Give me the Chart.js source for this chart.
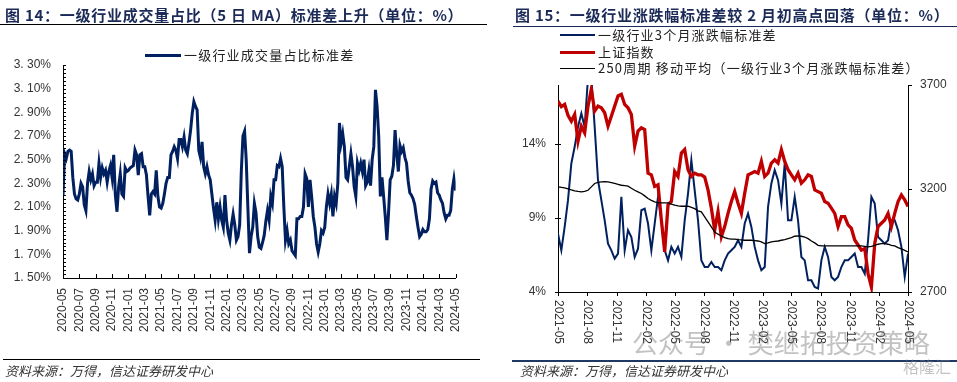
<!DOCTYPE html>
<html><head><meta charset="utf-8">
<script src="https://cdn.jsdelivr.net/npm/chart.js@4"></script>
<style>
html,body{margin:0;padding:0;background:#fff;width:957px;height:382px;overflow:hidden;position:relative;font-family:"Noto Sans CJK SC",sans-serif;}
.abs{position:absolute;white-space:nowrap;}
canvas{position:absolute;top:0;}
.title{font-weight:bold;font-size:15px;color:#1b2a57;line-height:20px;letter-spacing:0.75px;}
.src{font-style:italic;font-size:13px;color:#333;line-height:18px;}
.leg{font-size:13px;color:#222;line-height:16px;letter-spacing:1.2px;}
.wm{color:rgba(120,120,120,0.45);}
</style></head><body>
<canvas id="c1" width="480" height="382" style="left:0;width:480px;height:382px"></canvas>
<canvas id="c2" width="477" height="382" style="left:480px;width:477px;height:382px"></canvas>

<div class="abs title" style="left:5px;top:5px">图 14：一级行业成交量占比（5 日 MA）标准差上升（单位：%）</div>
<div class="abs" style="left:0;top:24px;width:487px;border-top:1.5px solid #000"></div>
<div class="abs title" style="left:515px;top:5px">图 15：一级行业涨跌幅标准差较 2 月初高点回落（单位：%）</div>
<div class="abs" style="left:513px;top:26px;width:444px;border-top:1.5px solid #1b2a57"></div>

<div class="abs" style="left:145px;top:53.5px;width:36px;height:3px;background:#002060"></div>
<div class="abs leg" style="left:184px;top:47px">一级行业成交量占比标准差</div>

<div class="abs" style="left:560px;top:34px;width:35px;height:2px;background:#002060"></div>
<div class="abs leg" style="left:598px;top:27px">一级行业3个月涨跌幅标准差</div>
<div class="abs" style="left:560px;top:50.5px;width:35px;height:3.5px;background:#c00000"></div>
<div class="abs leg" style="left:598px;top:44px">上证指数</div>
<div class="abs" style="left:560px;top:67.5px;width:35px;height:1.5px;background:#000"></div>
<div class="abs leg" style="left:598px;top:60px">250周期 移动平均（一级行业3个月涨跌幅标准差）</div>

<div class="abs" style="left:3px;top:359px;width:477px;border-top:1.5px solid #000"></div>
<div class="abs src" style="left:5px;top:362px">资料来源：万得，信达证券研发中心</div>
<div class="abs" style="left:512px;top:360px;width:445px;border-top:2px solid #1f3864"></div>
<div class="abs src" style="left:520px;top:362px">资料来源：万得，信达证券研发中心</div>

<div class="abs wm" style="left:632px;top:326px;font-size:26px;line-height:32px">公众号 · 樊继拓投资策略</div>
<div class="abs wm" style="left:903px;top:356px;font-size:16px;line-height:20px">格隆汇</div>

<script>
// ---------- Left chart data ----------
const leftStepMonths = 0.2; // sample spacing (months from 2020-05)
const stdVals = [
2.20,2.55,2.51,2.57,2.58,2.57,2.35,2.21,2.17,2.16,
2.21,2.30,2.27,2.12,2.07,2.30,2.40,2.33,2.38,2.28,
2.31,2.31,2.47,2.35,2.43,2.38,2.41,2.31,2.40,2.45,
2.35,2.54,2.20,2.06,2.27,2.38,2.21,2.19,2.43,2.40,
2.41,2.43,2.44,2.45,2.58,2.54,2.37,2.54,2.55,2.44,
2.44,2.37,2.19,2.03,2.21,2.23,2.21,2.41,2.19,2.10,
2.09,2.13,2.21,2.30,2.35,2.35,2.54,2.57,2.61,2.58,
2.51,2.67,2.67,2.61,2.69,2.58,2.55,2.64,2.75,2.89,
2.99,2.95,2.92,2.58,2.52,2.65,2.44,2.38,2.44,2.37,
2.33,2.21,2.09,1.99,2.14,2.00,2.10,1.99,1.93,2.20,
1.99,1.88,1.82,1.95,2.04,1.95,1.82,1.85,1.95,2.40,
2.70,2.74,2.50,2.10,1.71,1.85,1.93,2.13,2.05,1.85,
1.76,1.75,1.80,1.86,1.98,2.07,1.99,2.19,2.13,2.33,
2.33,2.45,2.44,2.51,2.44,2.10,1.82,1.90,1.79,1.82,
1.73,1.71,1.69,2.00,2.00,2.02,2.02,2.10,2.38,2.34,
2.10,2.33,2.19,2.02,1.93,1.79,1.72,1.79,1.90,1.88,
1.93,2.10,2.21,2.13,2.21,2.02,2.19,2.13,2.30,2.81,
2.64,2.72,2.61,2.35,2.33,2.44,2.55,2.44,2.27,2.19,
2.47,2.41,2.47,2.40,2.50,2.28,2.31,2.41,2.28,2.50,
2.61,3.09,2.95,2.70,2.19,2.35,2.19,2.02,1.82,2.05,
2.33,2.36,2.45,2.75,2.55,2.40,2.62,2.57,2.60,2.52,
2.47,2.32,2.22,2.20,2.17,2.12,2.02,1.93,1.85,1.87,
1.91,1.89,1.89,1.91,2.00,2.25,2.32,2.30,2.31,2.22,
2.20,2.16,2.13,2.05,2.00,2.03,2.03,2.07,2.25,2.34,
2.24];
const leftTickLabels = ['2020-05','2020-07','2020-09','2020-11','2021-01','2021-03','2021-05','2021-07','2021-09','2021-11','2022-01','2022-03','2022-05','2022-07','2022-09','2022-11','2023-01','2023-03','2023-05','2023-07','2023-09','2023-11','2024-01','2024-03','2024-05'];
const leftTickMonths = [0,2,4,6,8,10,12,14,16,18,20,22,24,26,28,30,32,34,36,38,40,42,44,46,48];
const leftYTicks = [1.5,1.7,1.9,2.1,2.3,2.5,2.7,2.9,3.1,3.3];

// ---------- Right chart data ----------
const rightStepDays = 10.44; // sample spacing (days from 2021-05-01)
const industryStd = [
7.95,6.82,8.40,10.21,12.69,13.82,15.17,16.08,15.17,18.5,
18.5,15.17,11.56,10.21,8.85,7.27,6.82,6.26,6.60,10.43,
6.82,8.18,7.72,6.37,6.93,9.53,9.64,8.63,6.82,8.63,
10.43,8.85,6.82,6.14,7.05,6.60,7.05,6.37,8.85,10.66,
12.92,10.88,8.85,6.14,5.69,5.69,6.03,5.69,5.69,5.47,
6.14,6.60,6.82,7.05,7.50,7.05,8.63,9.30,8.40,7.05,
6.14,5.47,5.69,9.76,11.34,12.24,11.56,9.98,12.69,8.85,
8.85,10.43,8.85,6.37,6.14,4.79,4.79,4.34,4.23,6.14,
7.05,6.37,5.02,4.79,5.02,5.69,6.14,6.14,6.37,6.60,
5.69,5.69,5.24,7.50,10.43,9.98,7.72,7.50,7.27,7.50,
8.85,8.85,8.18,7.05,5.02,6.60];
const sseIndex = [
3622,3595,3606,3553,3525,3558,3428,3501,3469,3598,
3679,3574,3598,3590,3566,3501,3549,3598,3647,3655,
3606,3590,3558,3404,3477,3493,3485,3274,3266,3210,
3218,3048,2894,3121,3137,3282,3258,3371,3388,3291,
3258,3274,3266,3266,3255,3193,3105,2999,3088,2967,
3016,3080,3137,3185,3129,3080,3177,3266,3274,3282,
3274,3331,3258,3274,3323,3339,3323,3388,3331,3291,
3266,3242,3274,3226,3242,3266,3258,3193,3185,3177,
3137,3129,3105,3080,3016,3064,3064,3024,3007,2951,
2927,2902,2910,2789,2724,2935,3016,3032,3048,3080,
3016,3080,3137,3169,3145,3113];
const ma250 = [
11.11,11.08,11.04,10.98,10.90,10.84,10.80,10.77,10.80,10.88,
11.11,11.34,11.42,11.45,11.46,11.45,11.40,11.34,11.28,11.22,
11.19,11.16,11.02,10.88,10.77,10.66,10.50,10.32,10.20,10.09,
10.05,10.03,10.03,10.03,9.95,9.87,9.83,9.80,9.80,9.80,
9.72,9.64,9.49,9.42,9.08,8.74,8.40,8.06,7.91,7.79,
7.68,7.61,7.57,7.57,7.54,7.52,7.50,7.50,7.50,7.48,
7.45,7.39,7.27,7.32,7.39,7.43,7.45,7.50,7.54,7.61,
7.68,7.77,7.79,7.77,7.72,7.61,7.45,7.32,7.16,7.12,
7.12,7.12,7.12,7.12,7.12,7.12,7.12,7.12,7.12,7.12,
7.12,7.12,7.09,7.05,7.09,7.16,7.23,7.27,7.27,7.23,
7.16,7.12,7.00,6.91,6.82,6.71];
const rightTickLabels = ['2021-05','2021-08','2021-11','2022-02','2022-05','2022-08','2022-11','2023-02','2023-05','2023-08','2023-11','2024-02','2024-05'];
const rightTickDays = [0,92,184,276,365,457,549,641,730,822,914,1006,1096];
const rightYTicks = [4,9,14];
const rightY2Ticks = [2700,3200,3700];

Chart.defaults.font.family = '"Liberation Sans", Arial, sans-serif';
Chart.defaults.color = '#333';

const leftDecor = {id:'leftDecor', afterDraw(ch){
  const {ctx, chartArea:a, scales:{x,y}} = ch;
  ctx.save(); ctx.strokeStyle='#000'; ctx.lineWidth=1; ctx.beginPath();
  for (let i=0;i<leftYTicks.length-1;i++){
    for (let j=0;j<6;j++){
      const v = leftYTicks[i] + (leftYTicks[i+1]-leftYTicks[i])*j/6;
      const py = Math.round(y.getPixelForValue(v))+0.5;
      ctx.moveTo(a.left,py); ctx.lineTo(a.left+3,py);
    }
  }
  const pt = Math.round(y.getPixelForValue(leftYTicks[leftYTicks.length-1]))+0.5;
  ctx.moveTo(a.left,pt); ctx.lineTo(a.left+3,pt);
  leftTickMonths.forEach(m=>{const px=Math.round(x.getPixelForValue(m))+0.5; ctx.moveTo(px,a.bottom); ctx.lineTo(px,a.bottom-4);});
  ctx.stroke(); ctx.restore();
}};

const rightDecor = {id:'rightDecor', afterDraw(ch){
  const {ctx, chartArea:a, scales:{x,y,y2}} = ch;
  ctx.save(); ctx.strokeStyle='#000'; ctx.lineWidth=1; ctx.beginPath();
  rightTickDays.forEach(d=>{const px=Math.round(x.getPixelForValue(d))+0.5; ctx.moveTo(px,a.bottom); ctx.lineTo(px,a.bottom+4);});
  rightYTicks.forEach(v=>{const py=Math.round(y.getPixelForValue(v))+0.5; ctx.moveTo(a.left-3,py); ctx.lineTo(a.left+3,py);});
  rightY2Ticks.forEach(v=>{const py=Math.round(y2.getPixelForValue(v))+0.5; ctx.moveTo(a.right,py); ctx.lineTo(a.right+4,py);});
  ctx.stroke();
  ctx.fillStyle='#333'; ctx.font='12px "Liberation Sans", Arial, sans-serif'; ctx.textAlign='left'; ctx.textBaseline='middle';
  rightTickLabels.forEach((t,i)=>{
    const px = x.getPixelForValue(rightTickDays[i]);
    ctx.save(); ctx.translate(px, a.bottom+8); ctx.rotate(Math.PI/2); ctx.fillText(t,0,0); ctx.restore();
  });
  ctx.restore();
}};

new Chart(document.getElementById('c1'), {
  type:'line',
  data:{datasets:[{label:'一级行业成交量占比标准差', data: stdVals.map((v,i)=>({x:i*leftStepMonths,y:v})), borderColor:'#002060', borderWidth:3, pointRadius:0, tension:0, fill:false}]},
  options:{
    responsive:false, animation:false, devicePixelRatio:1,
    layout:{padding:{left:0,right:17,top:65,bottom:44}},
    plugins:{legend:{display:false}, tooltip:{enabled:false}},
    scales:{
      x:{type:'linear', min:0, max:48,
        afterBuildTicks:s=>{s.ticks=leftTickMonths.map(v=>({value:v}));},
        afterFit:s=>{s.height=60;},
        grid:{display:false, drawTicks:false}, border:{display:true,color:'#000',width:1},
        ticks:{autoSkip:false, maxRotation:90, minRotation:90, padding:10, font:{size:12}, color:'#333', callback:(v,i)=>leftTickLabels[i]}},
      y:{type:'linear', min:1.5, max:3.3,
        afterBuildTicks:s=>{s.ticks=leftYTicks.map(v=>({value:v}));},
        afterFit:s=>{s.width=63;},
        grid:{display:false, drawTicks:false}, border:{display:true,color:'#000',width:1},
        ticks:{padding:12, font:{size:12}, color:'#333', callback:v=>v.toFixed(2).replace('.','. ')+'%'}}
    }
  },
  plugins:[leftDecor]
});

new Chart(document.getElementById('c2'), {
  type:'line',
  data:{datasets:[
    {label:'250周期 移动平均（一级行业3个月涨跌幅标准差）', data: ma250.map((v,i)=>({x:i*rightStepDays,y:v})), yAxisID:'y', borderColor:'#000', borderWidth:1.3, pointRadius:0, tension:0, fill:false},
    {label:'上证指数', data: sseIndex.map((v,i)=>({x:i*rightStepDays,y:v})), yAxisID:'y2', borderColor:'#c00000', borderWidth:3.3, pointRadius:0, tension:0, fill:false},
    {label:'一级行业3个月涨跌幅标准差', data: industryStd.map((v,i)=>({x:i*rightStepDays,y:v})), yAxisID:'y', borderColor:'#002060', borderWidth:2, pointRadius:0, tension:0, fill:false}
  ]},
  options:{
    responsive:false, animation:false, devicePixelRatio:1,
    layout:{padding:{left:0,right:0,top:85,bottom:80}},
    plugins:{legend:{display:false}, tooltip:{enabled:false}},
    scales:{
      x:{type:'linear', min:0, max:1096,
        afterBuildTicks:s=>{s.ticks=rightTickDays.map(v=>({value:v}));},
        afterFit:s=>{s.height=10;},
        grid:{display:false, drawTicks:false}, border:{display:true,color:'#000',width:1},
        ticks:{display:false}},
      y:{type:'linear', position:'left', min:4, max:18,
        afterBuildTicks:s=>{s.ticks=rightYTicks.map(v=>({value:v}));},
        afterFit:s=>{s.width=78;},
        grid:{display:false, drawTicks:false}, border:{display:true,color:'#000',width:1},
        ticks:{padding:12, font:{size:12}, color:'#333', callback:v=>v+'%'}},
      y2:{type:'linear', position:'right', min:2700, max:3700,
        afterBuildTicks:s=>{s.ticks=rightY2Ticks.map(v=>({value:v}));},
        afterFit:s=>{s.width=49;},
        grid:{display:false, drawTicks:false}, border:{display:true,color:'#000',width:1},
        ticks:{padding:12, font:{size:12}, color:'#333', callback:v=>String(v)}}
    }
  },
  plugins:[rightDecor]
});
</script>
</body></html>
